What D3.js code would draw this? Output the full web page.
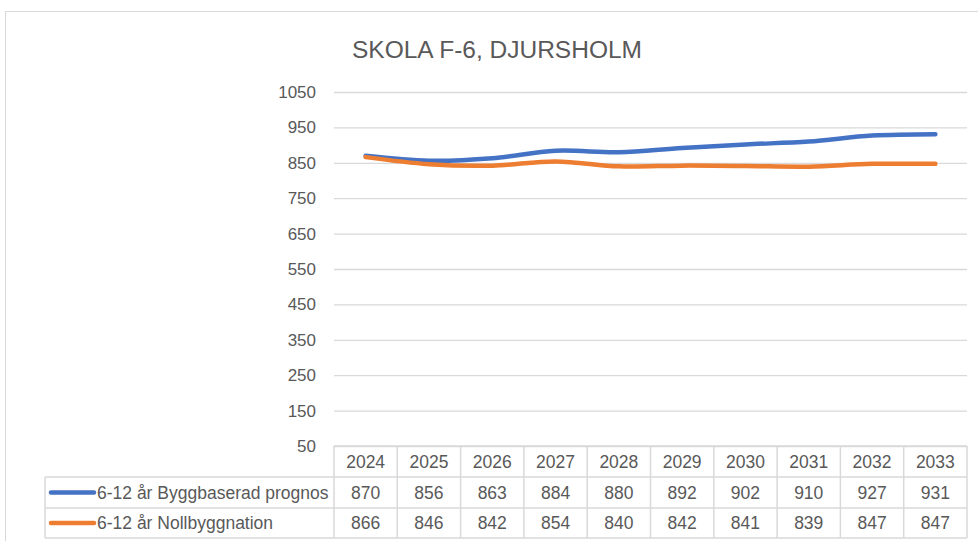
<!DOCTYPE html>
<html>
<head>
<meta charset="utf-8">
<script src="https://cdn.jsdelivr.net/npm/d3@7"></script>
<style>
  body { margin: 0; background: #fff; }
  text { font-family: "Liberation Sans", "DejaVu Sans", sans-serif; fill: #595959; }
</style>
</head>
<body>
<div id="chart"></div>
<script>
var years = [2024, 2025, 2026, 2027, 2028, 2029, 2030, 2031, 2032, 2033]
var byggbaserad = [870, 856, 863, 884, 880, 892, 902, 910, 927, 931]
var nollbyggnation = [866, 846, 842, 854, 840, 842, 841, 839, 847, 847]
var seriesNames = ['6-12 år Byggbaserad prognos', '6-12 år Nollbyggnation']
var seriesColors = ['#4472C4', '#ED7D31']
var yTicks = [50, 150, 250, 350, 450, 550, 650, 750, 850, 950, 1050]

var W = 978, H = 541
var plotLeft = 334, plotRight = 967, plotTop = 92, plotBottom = 446
var labelLeft = 45
var rowTop = [446, 477, 508, 538]

var svg = d3.select('#chart')
    .append('svg')
    .attr('width', W)
    .attr('height', H)

// outer border
svg.append('rect')
    .attr('x', 5.5)
    .attr('y', 11.5)
    .attr('width', W)
    .attr('height', H)
    .attr('fill', 'none')
    .attr('stroke', '#d9d9d9')

// title
svg.append('text')
    .text('SKOLA F-6, DJURSHOLM')
    .attr('x', 497)
    .attr('y', 58)
    .attr('text-anchor', 'middle')
    .style('font-size', '24.5px')

var xscale = d3.scaleBand()
    .domain(years)
    .range([plotLeft, plotRight])

var yscale = d3.scaleLinear()
    .domain([50, 1050])
    .range([plotBottom, plotTop])

// y axis + grid
var yaxis = d3.axisLeft(yscale)
    .tickValues(yTicks)
    .tickFormat(d3.format('d'))
    .tickSize(-(plotRight - plotLeft))
    .tickPadding(18)

var ga = svg.append('g')
    .attr('transform', `translate(${plotLeft}, 0)`)
    .call(yaxis)
ga.select('.domain').remove()
ga.selectAll('line').attr('stroke', '#d9d9d9').attr('stroke-width', 1.3)
ga.selectAll('text')
    .style('font-size', '17px')
    .style('font-family', '"Liberation Sans", sans-serif')
    .attr('fill', '#595959')

// lines
var line = d3.line()
    .x((d, i) => xscale(years[i]) + xscale.bandwidth() / 2)
    .y(d => yscale(d))
    .curve(d3.curveCatmullRom)

;[byggbaserad, nollbyggnation].forEach(function (s, k) {
    svg.append('path')
        .datum(s)
        .attr('d', line)
        .attr('fill', 'none')
        .attr('stroke', seriesColors[k])
        .attr('stroke-width', 4.5)
        .attr('stroke-linecap', 'round')
        .attr('stroke-linejoin', 'round')
})

// data table
var tg = svg.append('g')
var bc = '#d9d9d9'

// horizontal lines
tg.append('line').attr('x1', plotLeft).attr('x2', plotRight).attr('y1', rowTop[0]).attr('y2', rowTop[0]).attr('stroke', bc).attr('stroke-width', 1.5)
;[1, 2, 3].forEach(function (r) {
    tg.append('line').attr('x1', labelLeft).attr('x2', plotRight)
        .attr('y1', rowTop[r]).attr('y2', rowTop[r])
        .attr('stroke', bc).attr('stroke-width', 1.5)
})
// vertical lines
tg.append('line').attr('x1', labelLeft).attr('x2', labelLeft).attr('y1', rowTop[1]).attr('y2', rowTop[3]).attr('stroke', bc).attr('stroke-width', 1.5)
years.forEach(function (y) {
    tg.append('line').attr('x1', xscale(y)).attr('x2', xscale(y))
        .attr('y1', rowTop[0]).attr('y2', rowTop[3])
        .attr('stroke', bc).attr('stroke-width', 1.5)
})
tg.append('line').attr('x1', plotRight).attr('x2', plotRight).attr('y1', rowTop[0]).attr('y2', rowTop[3]).attr('stroke', bc).attr('stroke-width', 1.5)

// year header
years.forEach(function (y) {
    tg.append('text')
        .text(y)
        .attr('x', xscale(y) + xscale.bandwidth() / 2)
        .attr('y', (rowTop[0] + rowTop[1]) / 2 + 6)
        .attr('text-anchor', 'middle')
        .style('font-size', '17.5px')
})

// series rows
;[byggbaserad, nollbyggnation].forEach(function (s, k) {
    var cy = (rowTop[k + 1] + rowTop[k + 2]) / 2
    tg.append('line')
        .attr('x1', 51).attr('x2', 94)
        .attr('y1', cy).attr('y2', cy)
        .attr('stroke', seriesColors[k])
        .attr('stroke-width', 4.5)
        .attr('stroke-linecap', 'round')
    tg.append('text')
        .text(seriesNames[k])
        .attr('x', 97)
        .attr('y', cy + 6)
        .style('font-size', '17.5px')
    s.forEach(function (v, i) {
        tg.append('text')
            .text(v)
            .attr('x', xscale(years[i]) + xscale.bandwidth() / 2)
            .attr('y', cy + 6)
            .attr('text-anchor', 'middle')
            .style('font-size', '17.5px')
    })
})
</script>
</body>
</html>
